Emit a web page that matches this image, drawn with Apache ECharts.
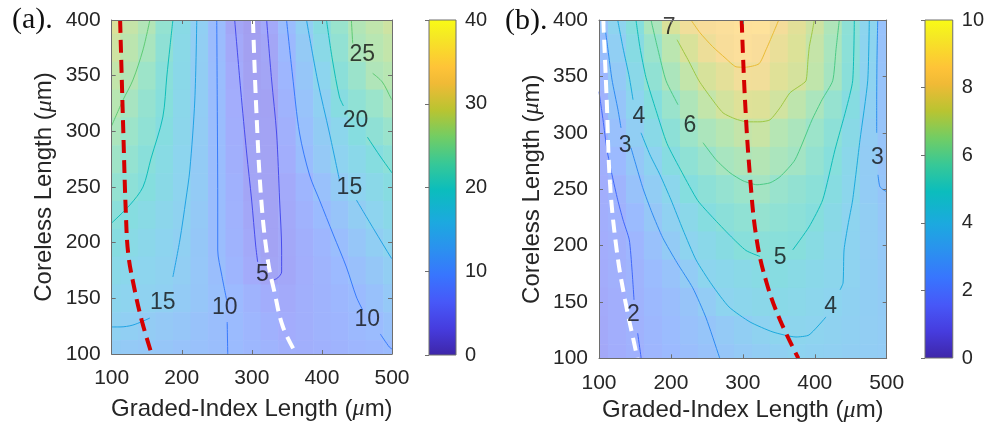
<!DOCTYPE html>
<html>
<head>
<meta charset="utf-8">
<script src="https://cdn.jsdelivr.net/npm/echarts@6/dist/echarts.min.js"></script>
<style>
  html, body { margin: 0; padding: 0; background: #ffffff; }
  #chart { width: 987px; height: 429px; }
</style>
</head>
<body>
<div id="chart"></div>
<script>
// ---- sampling grid (µm) ----
const gradedIndexLen = [100, 125, 150, 175, 200, 225, 250, 275, 300, 325, 350, 375, 400, 425, 450, 475, 500];
const corelessLen = [400, 375, 350, 325, 300, 275, 250, 225, 200, 175, 150, 125, 100];

// ---- panel (a): field values, one row per coreless length (top row = 400 µm) ----
const fieldA = [
  [29.0, 27.2, 25.3, 21.9, 18.1, 14.4, 10.0, 5.1, 3.6, 5.7, 10.1, 14.5, 18.9, 22.6, 25.4, 26.7, 28.0],
  [28.0, 26.3, 24.4, 21.1, 17.7, 14.2, 10.0, 5.7, 3.7, 5.1, 9.3, 13.3, 17.6, 21.5, 24.8, 26.0, 27.0],
  [27.0, 25.5, 23.1, 20.4, 17.4, 14.1, 10.1, 6.2, 4.0, 4.8, 8.6, 12.3, 16.1, 20.5, 22.8, 25.1, 26.0],
  [26.0, 24.1, 22.0, 20.0, 17.1, 14.0, 10.1, 6.6, 4.4, 4.3, 7.9, 11.5, 14.7, 18.9, 21.2, 22.9, 24.6],
  [24.7, 23.0, 21.2, 19.2, 16.7, 13.7, 10.1, 6.9, 4.6, 4.4, 7.3, 10.8, 13.8, 16.5, 19.2, 21.1, 22.7],
  [23.3, 21.8, 20.3, 18.4, 16.2, 13.5, 10.1, 7.2, 4.8, 4.5, 6.8, 10.1, 12.9, 15.5, 17.3, 19.2, 20.7],
  [21.8, 20.8, 19.6, 17.8, 15.9, 13.4, 10.2, 7.5, 5.0, 4.5, 6.1, 8.5, 11.0, 13.5, 15.7, 17.4, 19.0],
  [20.4, 19.3, 18.0, 16.7, 15.4, 13.0, 10.1, 7.7, 5.3, 4.4, 5.8, 7.7, 9.6, 11.8, 14.1, 15.9, 17.4],
  [19.1, 18.1, 17.1, 16.0, 14.8, 12.5, 10.1, 7.9, 5.7, 4.4, 5.6, 7.1, 8.7, 10.3, 12.3, 14.3, 15.8],
  [17.7, 16.9, 16.2, 15.4, 14.2, 12.4, 10.5, 8.4, 6.2, 4.8, 5.4, 6.8, 8.1, 9.4, 10.9, 12.5, 14.2],
  [16.4, 15.9, 15.4, 14.8, 13.5, 12.1, 10.8, 9.4, 8.0, 6.7, 6.0, 7.1, 8.0, 8.8, 9.7, 11.1, 12.8],
  [15.1, 14.5, 13.7, 12.9, 12.1, 11.3, 10.5, 9.6, 8.6, 7.6, 6.5, 7.2, 7.9, 8.5, 9.2, 9.9, 11.2],
  [13.8, 13.2, 12.7, 12.1, 11.5, 11.0, 10.4, 9.7, 8.9, 8.1, 7.3, 7.1, 7.5, 8.0, 8.6, 9.1, 9.7]
];

// ---- panel (b): field values ----
const fieldB = [
  [2.90, 3.95, 4.94, 6.14, 7.23, 7.92, 8.16, 8.35, 8.55, 8.60, 8.00, 7.49, 6.98, 6.26, 5.24, 4.04, 2.80],
  [2.60, 3.60, 4.65, 5.70, 6.56, 7.24, 7.80, 8.15, 8.40, 8.20, 7.70, 7.30, 6.80, 6.13, 5.16, 4.00, 2.85],
  [2.20, 3.30, 4.35, 5.36, 6.17, 6.75, 7.20, 7.55, 7.93, 7.90, 7.43, 7.15, 6.69, 6.02, 5.10, 3.90, 2.90],
  [1.95, 3.00, 3.98, 4.90, 5.67, 6.26, 6.74, 7.11, 7.38, 7.35, 7.05, 6.63, 6.14, 5.52, 4.77, 3.68, 2.90],
  [1.85, 2.69, 3.57, 4.44, 5.22, 5.78, 6.18, 6.48, 6.78, 6.88, 6.44, 6.16, 5.75, 5.20, 4.48, 3.51, 2.95],
  [1.80, 2.36, 3.19, 3.90, 4.73, 5.29, 5.71, 6.06, 6.26, 6.40, 6.16, 5.93, 5.46, 5.00, 4.28, 3.44, 2.95],
  [1.75, 2.07, 2.82, 3.50, 4.17, 4.88, 5.22, 5.48, 5.74, 5.95, 5.65, 5.40, 5.15, 4.74, 4.12, 3.41, 3.00],
  [1.70, 1.93, 2.45, 3.11, 3.74, 4.30, 4.82, 5.13, 5.32, 5.50, 5.33, 5.16, 4.97, 4.47, 3.98, 3.54, 3.10],
  [1.65, 1.85, 2.17, 2.74, 3.34, 3.96, 4.33, 4.68, 5.02, 5.12, 5.08, 4.98, 4.61, 4.25, 3.89, 3.54, 3.20],
  [1.60, 1.82, 2.06, 2.46, 2.86, 3.41, 4.02, 4.21, 4.40, 4.60, 4.75, 4.51, 4.32, 4.12, 3.88, 3.59, 3.30],
  [1.50, 1.75, 2.00, 2.31, 2.61, 2.92, 3.41, 3.98, 4.14, 4.29, 4.44, 4.31, 4.15, 4.00, 3.79, 3.57, 3.35],
  [1.45, 1.70, 1.96, 2.22, 2.48, 2.74, 3.00, 3.29, 3.57, 3.86, 4.05, 4.08, 3.98, 3.84, 3.70, 3.55, 3.40],
  [1.40, 1.66, 1.91, 2.15, 2.38, 2.61, 2.84, 3.07, 3.28, 3.50, 3.71, 3.90, 3.79, 3.69, 3.59, 3.50, 3.40]
];

// ---- colour-bar ticks ----
const colorbarTicksA = [0, 10, 20, 30, 40];
const colorbarTicksB = [0, 2, 4, 6, 8, 10];

// ---- panel (a): contour segments [graded-index, coreless] ----
const a25L = [[154.5, 400], [144.6, 373.1], [130.3, 346.1], [116.1, 328.1], [100, 305]];
const a20L = [[187.3, 400], [183, 374.9], [178.7, 349.7], [173, 312.9], [155.9, 275.2], [144.6, 250], [126, 233.9], [100, 217.7]];
const a15Lup = [[221.4, 400], [218.6, 328.1], [211.5, 265.3], [205.8, 238.3], [197.3, 202.4], [187.3, 169.2]];
const a15Llow = [[154.5, 132.3], [130.3, 126], [111.8, 124.3], [100, 124.3]];
const a10Lup = [[249.9, 400], [250.6, 328.1], [251.3, 238.3], [251.3, 193.4], [257, 171], [264.1, 148.5]];
const a10Llow = [[264.8, 128.7], [265.6, 100]];
const a5L = [[275.5, 400], [284.1, 337.1], [292.6, 280.5], [299.7, 238.3], [305.4, 197.9], [308.3, 182.6]];
const a5R = [[321.1, 400], [328.2, 346.1], [335.3, 298.5], [339.6, 238.3], [342.5, 193.4], [342.5, 173.7], [336.8, 168.3], [331.1, 166.5]];
const a10Rup = [[349.5, 400], [358, 350.6], [368, 298.5], [382.3, 260.8], [396.5, 238.3], [416.4, 206.9], [434.9, 178.1], [449.2, 151.2], [458.2, 139.5]];
const a10Rlow = [[483.3, 118], [496.1, 106.3], [500, 104.5]];
const a15Rup = [[378, 400], [393.7, 346.1], [410.7, 298.5], [425, 256.3]];
const a15Rlow = [[449.2, 238.3], [474.8, 211.3], [499, 186.2], [500, 185.5]];
const a20Rup = [[406.5, 400], [415, 364.1], [425, 330.9], [430.7, 322.8]];
const a20Rlow = [[464.8, 294.9], [481.9, 278.7], [499, 263.5], [500, 262.6]];
const a25Rup = [[442, 400], [443.9, 379.1]];
const a25Rlow = [[472.4, 352.1], [486.2, 344.3], [498.6, 329.7], [500, 328.3]];

// ---- panel (b): contour segments ----
const b2up = [[100, 336.4], [105.6, 311.5], [111.1, 284.9], [118.1, 262.7], [126, 240.5], [133.4, 222.8], [142.1, 205], [145.9, 178.4], [148.7, 151.8]];
const b2low = [[153.8, 122.2], [158.4, 101.2], [158.6, 100]];
const b3Lup = [[107, 400], [112.5, 373.6], [118.1, 346.9], [126.4, 320.3], [130.6, 304.3]];
const b3Llow = [[144.5, 286.7], [160.8, 251.3], [173.7, 229.1], [188.6, 206.9], [208.5, 184.7], [230.3, 162.5], [248.8, 135.9], [267.3, 101.2], [268, 100]];
const b4a = [[126, 400], [133.4, 375.2], [142.1, 349.4], [147.3, 329.3]];
const b4b = [[158.4, 300], [170.9, 280.4], [184.8, 262.7], [200.1, 240.5], [216.8, 213.9], [234.9, 187.3], [257.1, 165.1], [280.8, 145.5], [310, 132.2], [341.9, 123.3], [373.9, 118.9], [392, 120.7], [415.6, 136.7]];
const b4c = [[435.1, 160.6], [439.3, 166.8], [440.7, 196.1], [446.2, 218.3], [452.7, 240.5], [462.9, 293.8], [473.6, 346.1], [475.8, 400]];
const b5a = [[151.4, 400], [157, 375.4], [165.3, 349.1], [179.3, 319.8], [194.5, 290.5], [215.4, 264.8], [237.2, 240], [258.1, 224.9], [282.1, 208.9], [304.4, 195.6], [323.9, 190.3]];
const b5b = [[369.3, 196.1], [392, 216.5], [411, 240.5], [428.1, 284.9], [443.4, 320.4], [452.7, 346.1], [455, 400]];
const b6a = [[172.3, 400], [182, 373.6], [193.2, 346.1], [209.8, 324.9]];
const b6b = [[244.6, 291.2], [262.7, 276.1], [282.1, 264.5], [300.2, 257.4], [319.7, 253.9], [337.8, 255.6], [351.7, 261], [372.5, 276], [396.2, 311.5], [410.1, 329.3], [424.9, 346.1], [429.5, 373.6], [434.1, 400]];
const b7 = [[208.5, 382.5], [223.7, 364.8], [239, 346.1], [255.7, 331], [272.4, 317.7], [289.1, 312.4], [305.8, 309.7], [323.9, 309.7], [337.8, 311.5], [351.7, 322.2], [365.6, 335.5], [379.5, 341.7], [387.8, 346.1], [390.6, 364.8], [392.4, 376.3], [396.2, 388.7], [399.4, 400]];
const b8 = [[227.9, 400], [240.4, 388.7], [258.1, 376.3], [275.2, 366.5], [290.5, 358.5], [303, 358.1], [322.5, 361.2], [332.2, 373.6], [341.9, 387.8], [349.9, 400]];
const b3Rup = [[487.5, 400], [486.5, 364.8], [486.1, 329.3], [486.1, 300]];
const b3Rlow = [[487.9, 262.7], [490.7, 252], [500, 247.6]];

// ---- contour labels [text, graded-index, coreless] ----
const labelsA = [['25', 457.7, 368.6], ['20', 447.8, 309.3], ['15', 439.2, 249.1], ['10', 464.8, 130.5],
                 ['5', 315, 171], ['10', 261.3, 141.3], ['15', 173, 145.8]];
const labelsB = [['7', 197.4, 392.9], ['4', 155.6, 314.4], ['6', 226.5, 306.2], ['3', 136.2, 288.7],
                 ['3', 487.1, 277.5], ['5', 351.7, 189.6], ['4', 422.2, 145.8], ['2', 147.7, 138.4]];

// ---- design curves ----
const redCurveA = [[112, 400], [116.5, 301], [120.4, 223], [123.6, 190], [130.7, 164], [142.7, 130.5], [157, 100]];
const whiteCurveA = [[301.6, 400], [306.4, 319], [313.5, 238], [322.9, 184], [332.5, 155], [344.3, 124.5], [363.5, 100]];
const redCurveB = [[298.4, 400], [303, 329], [310, 261], [319.3, 205], [333.2, 166.6], [351.7, 134], [377.2, 100]];
const whiteCurveB = [[106, 400], [110.7, 329.3], [115.3, 255.3], [124.6, 196.1], [136.2, 151.8], [152.4, 103], [153.2, 100]];

// ---- colour map (parula) ----
const PARULA = [
  [0.0000, [0.2422, 0.1504, 0.6603]], [0.0794, [0.2751, 0.2342, 0.8710]], [0.1587, [0.2795, 0.3447, 0.9717]],
  [0.2381, [0.2206, 0.4603, 0.9973]], [0.3175, [0.1687, 0.5703, 0.9359]], [0.3968, [0.1113, 0.6635, 0.8763]],
  [0.4921, [0.0433, 0.7411, 0.7394]], [0.5714, [0.2161, 0.7843, 0.5923]], [0.6508, [0.4456, 0.8024, 0.3909]],
  [0.7302, [0.7242, 0.7698, 0.1910]], [0.8095, [0.9393, 0.7288, 0.2100]], [0.8571, [0.9970, 0.7659, 0.2199]],
  [0.9048, [0.9786, 0.8386, 0.1766]], [0.9524, [0.9597, 0.9135, 0.1423]], [1.0000, [0.9769, 0.9839, 0.0805]]
];
function parula(t) {
  t = Math.max(0, Math.min(1, t));
  for (let i = 1; i < PARULA.length; i++) {
    if (t <= PARULA[i][0]) {
      const [t0, c0] = PARULA[i - 1], [t1, c1] = PARULA[i];
      const f = (t - t0) / (t1 - t0);
      return c0.map((v, k) => v + (c1[k] - v) * f);
    }
  }
  return PARULA[PARULA.length - 1][1];
}
function css(c) {
  return 'rgb(' + c.map(v => Math.round(v * 255)).join(',') + ')';
}
const FACE_ALPHA = 0.5;
function faceColor(t) {
  // semi-transparent face over a white background
  return css(parula(t).map(v => 1 - FACE_ALPHA * (1 - v)));
}

const FONT = 'Liberation Sans, Arial, Helvetica, sans-serif';
const TXT = '#262626';
const FRAME = '#6e6e6e';
const X_MIN = 100, X_MAX = 500, Y_MIN = 100, Y_MAX = 400;
const HALF_X = (gradedIndexLen[1] - gradedIndexLen[0]) / 2;
const HALF_Y = (corelessLen[0] - corelessLen[1]) / 2;

function gridCells(field) {
  const out = [];
  corelessLen.forEach((y, j) => gradedIndexLen.forEach((x, i) => out.push([x, y, field[j][i]])));
  return out;
}

function cellRenderer(cmax) {
  return function (params, api) {
    const x = api.value(0), y = api.value(1), v = api.value(2);
    const x0 = Math.max(X_MIN, x - HALF_X), x1 = Math.min(X_MAX, x + HALF_X);
    const y0 = Math.max(Y_MIN, y - HALF_Y), y1 = Math.min(Y_MAX, y + HALF_Y);
    const p0 = api.coord([x0, y1]), p1 = api.coord([x1, y0]);
    const padW = x1 < X_MAX ? 0.6 : 0, padH = y0 > Y_MIN ? 0.6 : 0;
    return {
      type: 'rect',
      shape: { x: p0[0], y: p0[1], width: p1[0] - p0[0] + padW, height: p1[1] - p0[1] + padH },
      style: { fill: faceColor(v / cmax) }
    };
  };
}

function colorbarRenderer(cmax) {
  return function (params, api) {
    const p0 = api.coord([0, cmax]), p1 = api.coord([1, 0]);
    const stops = PARULA.map(([t, c]) => ({ offset: t, color: css(c) }));
    return {
      type: 'rect',
      shape: { x: p0[0], y: p0[1], width: p1[0] - p0[0], height: p1[1] - p0[1] },
      style: { fill: new echarts.graphic.LinearGradient(0, 1, 0, 0, stops), stroke: FRAME, lineWidth: 1 }
    };
  };
}

function contourSeries(segments, cmax, xi, yi, smooth) {
  return segments.map(([level, seg]) => ({
    type: 'line', xAxisIndex: xi, yAxisIndex: yi, data: seg, showSymbol: false, symbol: 'none',
    smooth: smooth, silent: true, z: 3,
    lineStyle: { color: css(parula(level / cmax)), width: 1 }
  }));
}

function curveSeries(data, color, xi, yi) {
  return {
    type: 'line', xAxisIndex: xi, yAxisIndex: yi, data: data, showSymbol: false, symbol: 'none',
    smooth: 0.4, silent: true, z: 5,
    lineStyle: { color: color, width: 4, type: [13, 7], cap: 'butt' }
  };
}

function labelSeries(labels, xi, yi) {
  return {
    type: 'scatter', xAxisIndex: xi, yAxisIndex: yi, symbolSize: 1, silent: true, z: 6,
    itemStyle: { color: 'rgba(0,0,0,0)' },
    data: labels.map(([t, x, y]) => ({ name: t, value: [x, y] })),
    label: { show: true, position: 'inside', formatter: p => p.name, fontSize: 23, fontFamily: FONT, color: '#111111' }
  };
}

const muRich = { mu: { fontSize: 24, fontFamily: 'Liberation Serif, serif', fontStyle: 'italic', color: TXT } };

function mainAxes(gridIndex, nameGapX, nameGapY) {
  const tick = { show: true, inside: true, length: 4, lineStyle: { color: FRAME } };
  const line = { show: true, lineStyle: { color: FRAME, width: 1 } };
  const lbl = { fontSize: 21, fontFamily: FONT, color: TXT };
  return {
    x: [
      { type: 'value', gridIndex, position: 'bottom', min: X_MIN, max: X_MAX, interval: 100, z: 8,
        axisLine: line, axisTick: tick, splitLine: { show: false },
        axisLabel: Object.assign({ margin: 14 }, lbl),
        name: 'Graded-Index Length ({mu|μ}m)', nameLocation: 'middle', nameGap: nameGapX,
        nameTextStyle: { fontSize: 24, fontFamily: FONT, color: TXT, rich: muRich } },
      { type: 'value', gridIndex, position: 'top', min: X_MIN, max: X_MAX, interval: 100, z: 8,
        axisLine: line, axisTick: tick, splitLine: { show: false }, axisLabel: { show: false } }
    ],
    y: [
      { type: 'value', gridIndex, position: 'left', min: Y_MIN, max: Y_MAX, interval: 50, z: 8,
        axisLine: line, axisTick: tick, splitLine: { show: false },
        axisLabel: Object.assign({ margin: 11 }, lbl),
        name: 'Coreless Length ({mu|μ}m)', nameLocation: 'middle', nameGap: nameGapY, nameRotate: 90,
        nameTextStyle: { fontSize: 24, fontFamily: FONT, color: TXT, rich: muRich } },
      { type: 'value', gridIndex, position: 'right', min: Y_MIN, max: Y_MAX, interval: 50, z: 8,
        axisLine: line, axisTick: tick, splitLine: { show: false }, axisLabel: { show: false } }
    ]
  };
}

function colorbarAxes(gridIndex, ticks) {
  return {
    x: { type: 'value', gridIndex, min: 0, max: 1, show: false },
    y: { type: 'value', gridIndex, position: 'right', min: ticks[0], max: ticks[ticks.length - 1],
         interval: ticks[1] - ticks[0], z: 8,
         axisLine: { show: false }, splitLine: { show: false },
         axisTick: { show: true, inside: true, length: 4, lineStyle: { color: FRAME } },
         axisLabel: { margin: 9, fontSize: 20, fontFamily: FONT, color: TXT } }
  };
}

const maxA = colorbarTicksA[colorbarTicksA.length - 1];
const maxB = colorbarTicksB[colorbarTicksB.length - 1];
const axA = mainAxes(0, 43, 55), axB = mainAxes(2, 39, 55);
const cbA = colorbarAxes(1, colorbarTicksA), cbB = colorbarAxes(3, colorbarTicksB);

const contoursA = [[25, a25L], [20, a20L], [15, a15Lup], [15, a15Llow], [10, a10Lup], [10, a10Llow],
                   [5, a5L], [5, a5R], [10, a10Rup], [10, a10Rlow], [15, a15Rup], [15, a15Rlow],
                   [20, a20Rup], [20, a20Rlow], [25, a25Rup], [25, a25Rlow]];
const contoursB = [[2, b2up], [2, b2low], [3, b3Lup], [3, b3Llow], [4, b4a], [4, b4b], [4, b4c],
                   [5, b5a], [5, b5b], [6, b6a], [6, b6b], [7, b7], [8, b8], [3, b3Rup], [3, b3Rlow]];

const option = {
  backgroundColor: '#ffffff',
  animation: false,
  grid: [
    { left: 111.7, top: 20, width: 280.3, height: 334 },
    { left: 429, top: 20, width: 27, height: 335 },
    { left: 599, top: 20, width: 287.7, height: 338.3 },
    { left: 925, top: 20, width: 28, height: 338 }
  ],
  xAxis: [axA.x[0], axA.x[1], cbA.x, axB.x[0], axB.x[1], cbB.x],
  yAxis: [axA.y[0], axA.y[1], cbA.y, axB.y[0], axB.y[1], cbB.y],
  graphic: [
    { type: 'text', left: 12, top: 5, style: { text: '(a).', font: '30px "Liberation Serif", "Times New Roman", serif', fill: '#111' } },
    { type: 'text', left: 505, top: 6, style: { text: '(b).', font: '30px "Liberation Serif", "Times New Roman", serif', fill: '#111' } }
  ],
  series: [
    { type: 'custom', xAxisIndex: 0, yAxisIndex: 0, data: gridCells(fieldA), renderItem: cellRenderer(maxA), silent: true, z: 1, encode: { x: 0, y: 1 } },
    ...contourSeries(contoursA, maxA, 0, 0, 0.3),
    curveSeries(redCurveA, '#d40000', 0, 0),
    curveSeries(whiteCurveA, '#ffffff', 0, 0),
    labelSeries(labelsA, 0, 0),
    { type: 'custom', xAxisIndex: 2, yAxisIndex: 2, data: [[0, 0]], renderItem: colorbarRenderer(maxA), silent: true, z: 1 },

    { type: 'custom', xAxisIndex: 3, yAxisIndex: 3, data: gridCells(fieldB), renderItem: cellRenderer(maxB), silent: true, z: 1, encode: { x: 0, y: 1 } },
    ...contourSeries(contoursB, maxB, 3, 3, 0.2),
    curveSeries(redCurveB, '#d40000', 3, 3),
    curveSeries(whiteCurveB, '#ffffff', 3, 3),
    labelSeries(labelsB, 3, 3),
    { type: 'custom', xAxisIndex: 5, yAxisIndex: 5, data: [[0, 0]], renderItem: colorbarRenderer(maxB), silent: true, z: 1 }
  ]
};

const chart = echarts.init(document.getElementById('chart'), null, { renderer: 'canvas' });
chart.setOption(option);
</script>
</body>
</html>
